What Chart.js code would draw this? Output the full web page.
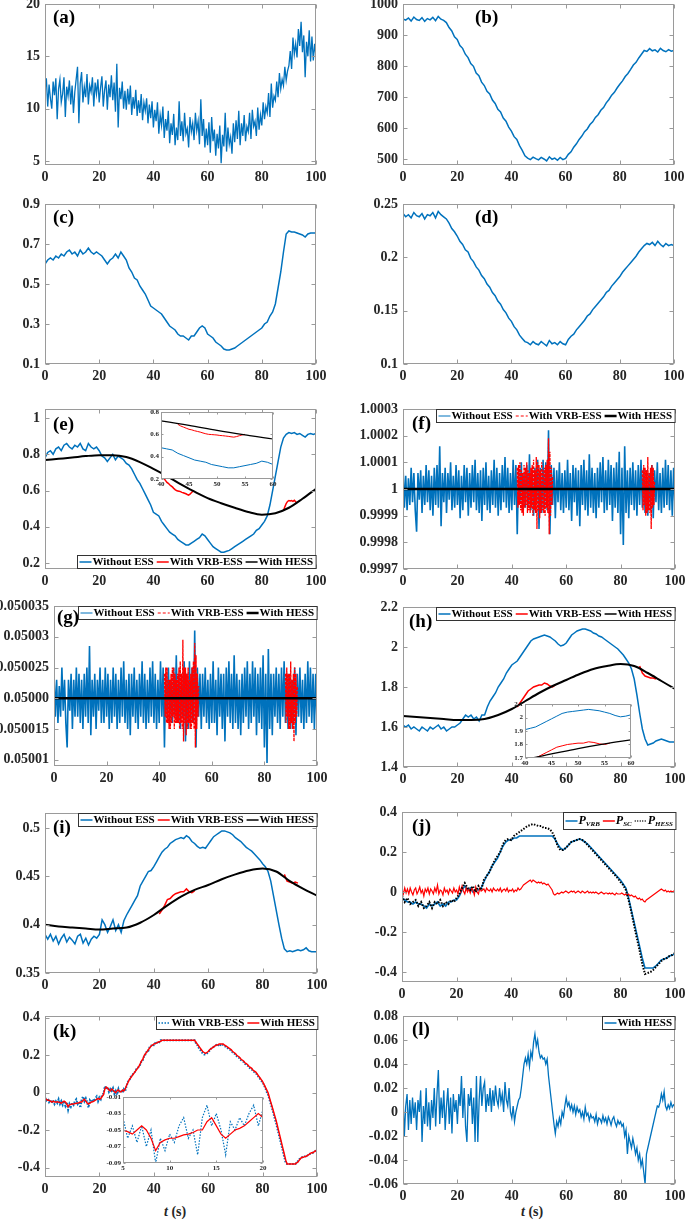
<!DOCTYPE html>
<html>
<head>
<meta charset="utf-8">
<script src="https://cdn.jsdelivr.net/npm/chart.js@4.4.1/dist/chart.umd.min.js"></script>
<style>
body{margin:0;background:#fff;}
#fig{position:relative;width:685px;height:1221px;overflow:hidden;background:#fff;}
#fig canvas{position:absolute;}
.tlab{position:absolute;font:bold 14px "Liberation Serif",serif;line-height:16px;color:#262626;white-space:nowrap;}
</style>
</head>
<body>
<div id="fig">
  <div class="tlab" style="left:164px;top:1204px"><i>t</i> (s)</div>
  <div class="tlab" style="left:521px;top:1204px"><i>t</i> (s)</div>
</div>
<script>
// ---------------- DATA ----------------
const xTicks = [0, 20, 40, 60, 80, 100];

// (a) step 0.5 s
const aTicks = [5, 10, 15, 20];
const aVals = [
  11.8,12.9,10.2,12.3,11.0,10.0,12.6,11.3,12.9,9.0,
  11.9,12.8,10.6,11.4,13.0,9.2,12.1,11.2,12.7,10.4,
  12.2,9.6,11.6,12.8,14.0,8.6,12.4,13.5,10.6,12.1,
  11.1,13.3,10.4,12.2,11.6,13.0,10.2,12.5,11.4,12.8,
  10.6,12.0,13.1,10.2,11.8,12.7,9.9,12.3,11.1,13.2,
  10.8,12.5,9.7,14.3,8.2,12.0,10.9,12.6,10.0,11.7,
  9.9,11.9,10.4,12.2,9.4,11.1,10.0,11.8,9.3,10.8,
  9.6,11.4,8.9,10.6,9.8,11.0,8.6,10.4,9.1,10.7,
  8.2,9.9,8.8,10.6,7.6,9.4,8.4,10.2,7.2,9.0,
  7.9,9.8,6.7,8.6,7.5,9.5,6.5,8.2,7.0,10.7,
  7.4,8.8,6.9,9.6,7.6,8.1,6.3,9.2,7.8,8.6,
  7.0,9.6,7.9,8.8,6.6,10.9,7.4,9.0,6.3,8.1,
  6.5,8.7,5.8,9.2,6.9,8.0,5.5,7.6,6.2,8.4,
  4.8,7.5,6.4,9.6,5.9,8.2,6.6,7.3,5.7,8.6,
  6.8,8.9,7.1,9.8,6.5,8.6,7.4,9.4,6.9,8.3,
  7.8,9.6,7.1,9.9,8.3,8.8,7.4,10.1,8.0,9.4,
  8.4,10.6,9.0,10.2,9.6,11.5,9.2,12.4,10.1,11.2,
  10.8,12.6,11.1,13.4,11.9,12.8,12.2,14.0,12.7,13.6,
  14.1,15.5,13.8,16.8,15.2,16.2,14.9,17.6,16.0,18.3,
  15.4,17.0,13.0,16.4,15.0,17.5,14.5,16.9,14.6,16.2,
  15.0];

// (b) step 1 s
const bTicks = [500, 600, 700, 800, 900, 1000];
const bVals = [
  952,948,955,945,958,950,947,956,944,953,
  949,957,946,960,951,947,940,924,913,894,
  886,866,857,838,827,808,799,777,769,748,
  737,718,710,690,679,660,652,632,622,603,
  590,572,563,543,528,510,503,498,506,501,
  497,505,500,494,507,499,503,496,505,498,
  502,515,523,538,549,563,574,588,597,611,
  620,634,643,657,666,681,692,706,715,729,
  741,752,766,776,789,803,812,826,838,850,
  847,856,849,852,845,857,850,846,853,848,
  850];

// (c) step 1 s
const cTicks = [0.1, 0.3, 0.5, 0.7, 0.9];
const cVals = [
  0.60,0.62,0.63,0.62,0.64,0.63,0.65,0.64,0.66,0.67,
  0.65,0.66,0.64,0.67,0.65,0.66,0.68,0.66,0.65,0.66,
  0.65,0.64,0.62,0.60,0.62,0.63,0.65,0.63,0.66,0.64,
  0.62,0.58,0.56,0.53,0.52,0.49,0.47,0.45,0.42,0.39,
  0.38,0.37,0.36,0.35,0.33,0.31,0.29,0.28,0.27,0.25,
  0.24,0.24,0.23,0.22,0.24,0.24,0.26,0.28,0.29,0.28,
  0.25,0.24,0.23,0.21,0.20,0.19,0.175,0.17,0.17,0.175,
  0.18,0.19,0.20,0.21,0.22,0.23,0.24,0.25,0.26,0.27,
  0.28,0.30,0.31,0.34,0.36,0.40,0.48,0.56,0.66,0.75,
  0.765,0.76,0.76,0.755,0.75,0.745,0.735,0.75,0.755,0.755,
  0.755];

// (d) step 1 s
const dTicks = [0.1, 0.15, 0.2, 0.25];
const dVals = [
  .241,.238,.240,.237,.242,.239,.238,.241,.236,.240,
  .239,.242,.237,.243,.240,.238,.236,.232,.227,.224,
  .220,.215,.212,.207,.205,.199,.196,.191,.188,.183,
  .180,.175,.172,.167,.164,.159,.156,.151,.148,.143,
  .140,.135,.132,.127,.124,.121,.120,.118,.121,.119,
  .118,.121,.119,.117,.122,.119,.120,.118,.121,.119,
  .118,.123,.126,.128,.132,.135,.138,.141,.145,.147,
  .151,.154,.157,.160,.163,.167,.169,.173,.176,.179,
  .182,.186,.189,.192,.195,.198,.201,.205,.208,.211,
  .213,.212,.214,.211,.215,.212,.210,.213,.211,.212,
  .211];

// (e) blue step 1 s, black step 5 s, red step 0.5 s
const eTicks = [0.2, 0.4, 0.6, 0.8, 1];
const eNoEss = [
  0.78,0.81,0.82,0.80,0.83,0.84,0.82,0.85,0.86,0.84,
  0.83,0.85,0.84,0.86,0.83,0.82,0.86,0.84,0.83,0.84,
  0.82,0.79,0.78,0.76,0.78,0.80,0.77,0.79,0.78,0.77,
  0.75,0.74,0.72,0.69,0.66,0.64,0.61,0.58,0.55,0.52,
  0.48,0.47,0.46,0.43,0.41,0.39,0.37,0.36,0.35,0.33,
  0.32,0.31,0.30,0.30,0.31,0.32,0.33,0.34,0.36,0.35,
  0.33,0.31,0.29,0.28,0.27,0.26,0.26,0.265,0.27,0.28,
  0.29,0.30,0.31,0.32,0.33,0.34,0.35,0.36,0.38,0.39,
  0.41,0.43,0.46,0.52,0.60,0.68,0.76,0.84,0.89,0.91,
  0.92,0.915,0.92,0.91,0.915,0.905,0.895,0.91,0.915,0.91,
  0.915];
const eHess = [0.768,0.775,0.782,0.79,0.795,0.795,0.785,0.757,0.72,0.68,0.635,
  0.595,0.558,0.53,0.505,0.482,0.467,0.475,0.505,0.555,0.61];
const eVrbA = [0.69,0.675,0.665,0.655,0.645,0.64,0.632,0.626,0.62,0.612,0.605,0.60,0.598,
  0.596,0.594,0.59,0.588,0.585,0.582,0.578,0.575,0.58,0.588,0.595,0.60];
const eVrbB = [0.49,0.51,0.528,0.54,0.545,0.542,0.545,0.54,0.546,0.538,0.53];

// (f) deviations from 1 in units of 1e-5; blue step 0.5 s, red step 0.25 s
const fTicks = [0.9997, 0.9998, 0.9999, 1, 1.0001, 1.0002, 1.0003];
const fNoEssDev = [
  9,-7,5,-8,4,-6,8,-5,6,-8,
  -16,6,-4,7,-9,5,-6,9,-5,7,
  -8,5,-10,8,-6,9,-7,16,-14,6,
  -5,8,-9,6,-4,10,-8,5,-7,9,
  -6,7,-11,5,-8,9,-5,8,-10,6,
  -7,9,-5,11,-8,6,-9,7,-12,8,
  -6,10,-8,5,-9,7,-6,11,-7,8,
  -10,6,-8,9,-5,12,-7,8,-9,6,
  -8,11,-6,9,-17,7,-5,10,-8,6,
  -7,9,-6,13,-8,7,-10,8,-5,11,
  -15,8,-9,11,-7,10,-8,22,-17,9,
  -6,8,-11,7,-5,10,-8,6,-9,7,
  -7,11,-8,6,-12,9,-5,8,-10,7,
  -14,9,-6,11,-8,7,-10,13,-7,8,
  -9,6,-11,8,-7,10,-5,12,-9,7,
  -8,11,-6,9,-12,8,-7,10,-9,14,
  -17,8,-21,16,-9,7,-11,8,-6,10,
  -8,7,-10,9,-6,11,-7,8,-9,7,
  -10,6,-8,9,-11,7,-5,10,-8,6,
  -9,8,-7,11,-6,9,-8,7,-10,8,
  -7];
const fVrbDevA = [
  8,-7,9,-6,10,-8,7,-9,6,-10,9,-7,8,-6,10,-9,7,-8,6,-9,
  8,-7,9,-10,11,-8,7,-9,12,-15,10,-8,9,-11,7,-9,
  10,-8,7,-9,8,-10,9,-7,11,-9,19,-17,14,-10,8,-6,5];
const fVrbDevB = [7,-8,9,-6,8,-10,7,-9,12,-8,6,-9,8,-15,9,-7,8,-6,3];
const fHess = [1,1,1,1,1,1,1,1,1,1,1];

// (g) deviations from 0.05002 in units of 1e-6
const gTicks = [0.05001, 0.050015, 0.05002, 0.050025, 0.05003, 0.050035];
const gTickLabels = ['0.05001', '0.050015', '0.05000', '0.050025', '0.05003', '0.050035'];
const gNoEssDev = [
  4,-3,3,-4,2,-3,5,-2,3,-4,
  -8,3,-2,4,-5,3,-3,5,-3,4,
  -4,3,-5,4,-3,5,-4,8.5,-6,3,
  -3,4,-5,3,-2,5,-4,3,-4,5,
  -3,4,-5,3,-4,5,-3,4,-5,3,
  -4,5,-3,6,-4,3,-5,4,-6,4,
  -3,5,-4,3,-5,4,-3,6,-4,4,
  -5,3,-4,5,-3,6,-4,4,-5,3,
  -4,6,-3,5,-8,4,-3,5,-4,3,
  -4,5,-3,7,-4,4,-5,4,-3,6,
  -7,4,-5,6,-4,5,-4,11,-8,5,
  -3,4,-5,4,-3,5,-4,3,-5,4,
  -4,6,-4,3,-6,5,-3,4,-5,4,
  -7,5,-3,6,-4,4,-5,7,-4,4,
  -5,3,-6,4,-4,5,-3,6,-5,4,
  -4,6,-3,5,-6,4,-4,5,-5,7,
  -8,4,-10.5,8,-5,4,-6,4,-3,5,
  -4,4,-5,5,-3,6,-4,4,-5,4,
  -5,3,-4,5,-6,4,-3,5,-4,3,
  -5,4,-4,6,-3,5,-4,4,-5,4,
  -4];
const gVrbDevA = [
  4,-3,5,-4,5,-4,3,-5,3,-5,4,-4,5,-3,5,-5,4,-4,3,-4,
  4,-4,5,-5,6,-4,4,-5,9.5,-7,5,-4,5,-6,4,-5,
  5,-4,3,-5,4,-5,5,-4,6,-5,9,-8,7,-5,4,-3,2];
const gVrbDevB = [4,-4,5,-3,4,-5,4,-5,6,-4,3,-5,4,-7,5,-4,4,-3,2];
const gHess = [0.05002,0.05002,0.05002,0.05002,0.05002,0.05002,0.05002,0.05002,0.05002,0.05002,0.05002];

// (h) blue step 1 s, black step 5 s, red step 1 s
const hTicks = [1.4, 1.6, 1.8, 2, 2.2];
const hNoEss = [
  1.61,1.60,1.61,1.59,1.60,1.59,1.58,1.60,1.59,1.58,
  1.60,1.59,1.60,1.61,1.59,1.60,1.58,1.59,1.60,1.60,
  1.61,1.62,1.64,1.66,1.65,1.66,1.64,1.65,1.63,1.66,
  1.66,1.70,1.73,1.75,1.77,1.80,1.82,1.84,1.87,1.89,
  1.91,1.92,1.93,1.95,1.97,1.99,2.01,2.03,2.04,2.045,
  2.05,2.055,2.06,2.055,2.05,2.04,2.03,2.015,2.005,2.01,
  2.02,2.04,2.06,2.07,2.08,2.085,2.09,2.09,2.085,2.08,
  2.07,2.065,2.055,2.05,2.04,2.03,2.02,2.01,2.0,1.99,
  1.975,1.96,1.94,1.92,1.89,1.84,1.76,1.67,1.59,1.54,
  1.51,1.515,1.52,1.53,1.535,1.54,1.535,1.53,1.525,1.525,
  1.525];
const hHess = [1.655,1.65,1.645,1.64,1.635,1.635,1.64,1.66,1.69,1.73,1.77,
  1.805,1.835,1.865,1.89,1.905,1.915,1.905,1.87,1.83,1.79];
const hVrbA = [1.70,1.72,1.74,1.76,1.78,1.79,1.80,1.805,1.81,1.81,1.82,1.815,1.805,1.80,1.81];
const hVrbB = [1.905,1.87,1.855,1.85,1.845,1.845,1.84];

// (i)
const iTicks = [0.35, 0.4, 0.45, 0.5];
const iNoEss = [
  0.39,0.385,0.39,0.383,0.388,0.38,0.386,0.39,0.382,0.387,
  0.384,0.38,0.388,0.39,0.381,0.386,0.379,0.385,0.388,0.386,
  0.39,0.405,0.40,0.392,0.398,0.405,0.394,0.40,0.392,0.404,
  0.41,0.415,0.42,0.425,0.43,0.44,0.445,0.45,0.455,0.456,
  0.46,0.465,0.47,0.475,0.478,0.48,0.484,0.486,0.488,0.489,
  0.49,0.489,0.492,0.49,0.486,0.484,0.481,0.479,0.48,0.479,
  0.483,0.487,0.491,0.493,0.495,0.497,0.497,0.496,0.495,0.493,
  0.49,0.488,0.486,0.483,0.48,0.478,0.476,0.473,0.47,0.467,
  0.463,0.46,0.455,0.445,0.43,0.415,0.40,0.386,0.375,0.372,
  0.373,0.372,0.373,0.374,0.373,0.374,0.376,0.373,0.372,0.372,
  0.372];
const iHess = [0.40,0.398,0.397,0.396,0.395,0.396,0.397,0.402,0.41,0.42,0.429,
  0.436,0.441,0.447,0.452,0.456,0.458,0.455,0.445,0.437,0.43];
const iVrbA = [0.411,0.415,0.42,0.426,0.427,0.43,0.432,0.433,0.434,0.434,0.437,0.434,0.433,0.435];
const iVrbB = [0.452,0.445,0.444,0.443,0.444,0.443];

// (j) P_VRB and P_HESS step 1 s, P_SC step 0.5 s
const jTicks = [-0.4, -0.2, 0, 0.2, 0.4];
const jVrb = [
  -0.03,-0.04,-0.05,-0.05,-0.06,-0.05,-0.06,-0.06,-0.07,-0.08,
  -0.06,-0.07,-0.06,-0.05,-0.07,-0.06,-0.07,-0.05,-0.05,-0.04,
  -0.04,-0.02,0.01,0.03,0.01,0.02,0.00,0.01,0.01,0.02,
  0.05,0.08,0.10,0.13,0.15,0.17,0.20,0.23,0.25,0.26,
  0.26,0.27,0.27,0.28,0.28,0.28,0.28,0.28,0.28,0.28,
  0.28,0.28,0.28,0.28,0.28,0.28,0.265,0.24,0.22,0.21,
  0.22,0.235,0.25,0.255,0.26,0.265,0.26,0.25,0.24,0.225,
  0.21,0.195,0.18,0.165,0.15,0.135,0.12,0.105,0.09,0.075,
  0.06,0.04,0.02,-0.03,-0.09,-0.15,-0.21,-0.27,-0.33,-0.38,
  -0.38,-0.38,-0.38,-0.37,-0.355,-0.34,-0.335,-0.33,-0.32,-0.315,
  -0.31];
const jSc = [
  0.01,-0.01,0.02,-0.005,0.015,-0.01,0.02,0.0,-0.015,0.01,
  0.02,-0.01,0.005,0.025,-0.005,0.01,-0.02,0.015,0.0,0.02,
  -0.01,0.015,0.005,-0.01,0.02,0.0,0.035,-0.01,0.01,0.005,
  -0.015,0.02,0.0,0.01,-0.01,0.015,0.005,-0.005,0.02,0.0,
  0.01,-0.01,0.025,0.0,0.03,0.005,-0.01,0.02,0.0,0.015,
  -0.005,0.02,0.01,-0.015,0.025,0.0,-0.01,0.02,0.005,0.01,
  0.015,0.0,0.02,0.01,0.005,0.015,0.0,0.02,0.01,0.005,
  0.015,0.005,0.02,0.0,0.01,0.015,0.005,0.02,0.0,0.01,
  0.005,0.015,0.0,0.01,0.005,0.02,0.01,0.015,0.025,0.035,
  0.04,0.045,0.05,0.055,0.06,0.05,0.06,0.055,0.05,0.045,
  0.05,0.045,0.05,0.04,0.045,0.04,0.035,0.04,0.03,0.02,
  0.01,-0.01,-0.015,-0.01,-0.005,-0.01,-0.005,0.0,-0.005,0.0,
  0.005,0.0,-0.005,0.0,0.005,0.0,0.005,-0.005,0.0,0.005,
  0.0,-0.005,0.005,0.0,-0.005,0.0,0.005,-0.005,0.0,-0.005,
  0.0,-0.005,0.0,-0.005,-0.01,-0.005,0.0,-0.005,-0.01,-0.005,
  -0.005,-0.01,-0.005,-0.01,-0.005,-0.01,-0.015,-0.005,-0.01,-0.01,
  -0.01,-0.005,-0.01,-0.015,-0.01,-0.015,-0.01,-0.02,-0.015,-0.02,
  -0.025,-0.02,-0.03,-0.035,-0.03,-0.04,-0.035,-0.045,-0.05,-0.04,
  -0.035,-0.03,-0.025,-0.02,-0.015,-0.01,-0.005,0.0,0.005,0.01,
  0.015,0.01,0.005,0.01,0.0,0.005,0.0,0.005,0.0,0.005,
  0.005];
const jHess = [
  -0.02,-0.05,-0.03,-0.06,-0.05,-0.04,-0.07,-0.05,-0.08,-0.07,
  -0.05,-0.08,-0.05,-0.06,-0.04,-0.07,-0.05,-0.06,-0.04,-0.05,
  -0.03,-0.01,0.02,0.045,0.02,0.01,0.03,0.00,0.03,0.01,
  0.06,0.08,0.10,0.13,0.16,0.18,0.20,0.24,0.26,0.265,
  0.26,0.28,0.29,0.30,0.31,0.32,0.33,0.335,0.34,0.335,
  0.33,0.33,0.32,0.32,0.315,0.30,0.27,0.23,0.21,0.21,
  0.22,0.235,0.25,0.255,0.26,0.265,0.26,0.25,0.235,0.22,
  0.205,0.19,0.175,0.16,0.145,0.13,0.115,0.10,0.085,0.07,
  0.05,0.035,0.01,-0.04,-0.10,-0.165,-0.23,-0.29,-0.36,-0.41,
  -0.405,-0.40,-0.39,-0.375,-0.36,-0.345,-0.335,-0.33,-0.32,-0.315,
  -0.305];

// (k) step 0.5 s
const kTicks = [-0.4, -0.2, 0, 0.2, 0.4];
const kVrbEss = [
  -0.025,-0.04,-0.03,-0.05,-0.04,-0.055,-0.04,-0.06,-0.045,-0.055,
  -0.035,-0.06,-0.045,-0.065,-0.045,-0.07,-0.05,-0.09,-0.06,-0.075,
  -0.055,-0.065,-0.045,-0.035,-0.06,-0.05,-0.08,-0.035,-0.02,-0.045,
  -0.03,-0.05,-0.08,-0.04,-0.05,-0.035,-0.045,-0.03,-0.02,-0.045,
  -0.025,-0.035,-0.01,-0.005,0.035,0.02,0.03,0.005,0.02,0.01,
  0.025,-0.005,0.01,-0.01,0.02,0.0,0.015,0.0,0.02,0.01,
  0.035,0.06,0.065,0.085,0.09,0.105,0.11,0.125,0.13,0.14,
  0.15,0.17,0.175,0.2,0.205,0.225,0.225,0.245,0.25,0.26,
  0.255,0.265,0.26,0.275,0.27,0.28,0.28,0.28,0.28,0.28,
  0.28,0.28,0.28,0.28,0.28,0.28,0.28,0.28,0.28,0.28,
  0.28,0.28,0.28,0.28,0.28,0.28,0.28,0.28,0.28,0.28,
  0.28,0.265,0.255,0.24,0.23,0.22,0.21,0.205,0.205,0.21,
  0.215,0.225,0.235,0.24,0.245,0.25,0.255,0.25,0.26,0.255,
  0.26,0.255,0.25,0.245,0.24,0.235,0.23,0.225,0.215,0.21,
  0.205,0.195,0.19,0.185,0.175,0.17,0.165,0.155,0.15,0.145,
  0.135,0.13,0.125,0.115,0.11,0.105,0.095,0.085,0.075,0.065,
  0.055,0.04,0.025,0.005,-0.01,-0.035,-0.06,-0.085,-0.11,-0.14,
  -0.165,-0.195,-0.225,-0.255,-0.285,-0.315,-0.345,-0.375,-0.38,-0.38,
  -0.38,-0.38,-0.38,-0.38,-0.38,-0.375,-0.365,-0.355,-0.35,-0.345,
  -0.345,-0.34,-0.34,-0.335,-0.33,-0.325,-0.32,-0.32,-0.315,-0.31,
  -0.305];
const kHess = [
  -0.03,-0.035,-0.04,-0.04,-0.045,-0.05,-0.045,-0.05,-0.05,-0.048,
  -0.05,-0.052,-0.055,-0.05,-0.045,-0.05,-0.06,-0.075,-0.065,-0.062,
  -0.06,-0.06,-0.058,-0.056,-0.055,-0.053,-0.05,-0.05,-0.04,-0.035,
  -0.045,-0.055,-0.06,-0.055,-0.05,-0.048,-0.045,-0.04,-0.035,-0.03,
  -0.035,-0.03,-0.02,-0.01,0.02,0.03,0.025,0.015,0.01,0.02,
  0.015,0.005,0.0,0.01,0.015,0.005,0.005,0.015,0.01,0.02,
  0.04,0.055,0.07,0.08,0.09,0.1,0.11,0.12,0.13,0.14,
  0.155,0.17,0.18,0.2,0.21,0.22,0.23,0.24,0.25,0.255,
  0.26,0.263,0.265,0.27,0.272,0.275,0.28,0.28,0.28,0.28,
  0.28,0.28,0.28,0.28,0.28,0.28,0.28,0.28,0.28,0.28,
  0.28,0.28,0.28,0.28,0.28,0.28,0.28,0.28,0.28,0.28,
  0.28,0.27,0.26,0.25,0.24,0.23,0.22,0.215,0.21,0.215,
  0.22,0.23,0.235,0.24,0.245,0.25,0.255,0.255,0.26,0.26,
  0.26,0.26,0.255,0.25,0.245,0.24,0.235,0.23,0.22,0.215,
  0.21,0.2,0.195,0.19,0.18,0.175,0.17,0.16,0.155,0.15,
  0.14,0.135,0.13,0.12,0.115,0.11,0.1,0.09,0.08,0.07,
  0.06,0.045,0.03,0.015,0.0,-0.025,-0.05,-0.075,-0.1,-0.125,
  -0.15,-0.18,-0.21,-0.24,-0.27,-0.3,-0.33,-0.36,-0.38,-0.38,
  -0.38,-0.38,-0.38,-0.38,-0.38,-0.375,-0.37,-0.36,-0.35,-0.345,
  -0.345,-0.34,-0.34,-0.335,-0.33,-0.325,-0.32,-0.32,-0.315,-0.31,
  -0.305];

// (l) step 0.5 s
const lTicks = [-0.06, -0.04, -0.02, 0, 0.02, 0.04, 0.06, 0.08];
const lHess = [
  0.015,-0.02,0.005,0.015,-0.015,0.01,-0.01,0.012,-0.005,0.008,
  -0.015,0.01,0.0,0.018,-0.025,0.005,-0.01,0.02,-0.012,0.008,
  -0.015,0.01,-0.005,0.02,-0.012,0.015,0.035,-0.01,0.012,-0.005,
  0.018,-0.015,0.005,0.02,-0.01,0.012,-0.018,0.015,0.0,0.01,
  -0.01,0.015,0.005,0.03,-0.005,0.02,-0.012,-0.025,0.015,0.005,
  0.02,-0.01,0.012,-0.025,0.03,-0.025,0.01,0.03,0.005,0.02,
  0.025,0.0,0.015,0.005,0.02,0.0,0.018,0.005,0.022,0.01,
  0.005,0.02,0.008,0.015,0.0,0.025,0.01,0.005,0.02,0.0,
  -0.005,0.005,-0.008,0.0,0.005,0.01,0.012,0.02,0.03,0.04,
  0.045,0.04,0.048,0.038,0.05,0.045,0.058,0.065,0.055,0.06,
  0.05,0.045,0.047,0.044,0.045,0.04,0.044,0.03,0.02,0.01,
  0.0,-0.01,-0.018,-0.008,-0.012,-0.005,-0.01,0.0,-0.004,0.005,
  0.012,0.005,0.008,0.002,0.006,0.0,0.005,-0.002,0.004,0.0,
  0.002,-0.004,0.0,-0.006,0.004,-0.003,-0.001,-0.007,-0.002,-0.005,
  -0.004,-0.008,-0.002,-0.01,-0.005,-0.006,-0.009,-0.003,-0.008,-0.005,
  -0.01,-0.004,-0.007,-0.011,-0.006,-0.004,-0.009,-0.012,-0.007,-0.01,
  -0.008,-0.012,-0.01,-0.02,-0.015,-0.035,-0.02,-0.025,-0.03,-0.022,
  -0.028,-0.035,-0.03,-0.04,-0.035,-0.045,-0.04,-0.05,-0.06,-0.035,
  -0.03,-0.025,-0.02,-0.015,-0.01,-0.005,0.0,0.005,0.004,0.008,
  0.015,0.01,0.017,0.005,0.002,0.006,0.003,0.008,0.004,0.006,
  0.005];

// insets
const eInX = [40, 45, 50, 55, 60], eInY = [0.2, 0.4, 0.6, 0.8];
const hInX = [40, 45, 50, 55, 60], hInY = [1.7, 1.8, 1.9, 2, 2.1];
const kInX = [5, 10, 15, 20], kInY = [-0.09, -0.07, -0.05, -0.03, -0.01];

// ---------------- HELPERS ----------------
const BLUE = '#0072BD', RED = '#FF0000', BLACK = '#000000';
const FAM = '"Liberation Serif", "Times New Roman", serif';
Chart.defaults.font.family = 'Liberation Serif';
const fig = document.getElementById('fig');

function pts(vals, t0, dt, k, off) {
  k = k || 1; off = off || 0;
  return vals.map((v, i) => ({x: t0 + i * dt, y: off + v * k}));
}
function segs(list, k, off) {
  let out = [];
  list.forEach((s, n) => {
    if (n > 0) out.push({x: s[0] - s[1] / 2, y: null});
    out = out.concat(pts(s[2], s[0], s[1], k, off));
  });
  return out;
}
function line(data, color, width, extra) {
  return Object.assign({data: data, borderColor: color, borderWidth: width, pointRadius: 0,
    fill: false, spanGaps: false, tension: 0}, extra || {});
}
const smooth = {cubicInterpolationMode: 'monotone'};
const LF = 'bold 11px ' + FAM;
function txt(s) { return [[s, LF, 0]]; }
function sub(a, b) { return [[a, 'italic bold 12px ' + FAM, 0], [b, 'italic bold 7px ' + FAM, 3]]; }

const frame = {
  id: 'frame',
  beforeDatasetsDraw(chart, args, o) {
    const {ctx, chartArea: a} = chart;
    if (o.fill) { ctx.save(); ctx.fillStyle = '#fff'; ctx.fillRect(a.left, a.top, a.right - a.left, a.bottom - a.top); ctx.restore(); }
  },
  afterDraw(chart, args, o) {
    const {ctx, chartArea: a, scales} = chart;
    const L = Math.round(a.left) + 0.5, R = Math.round(a.right) - 0.5;
    const T = Math.round(a.top) + 0.5, B = Math.round(a.bottom) - 0.5;
    const len = o.tick || 4;
    ctx.save();
    ctx.strokeStyle = '#9a9a9a'; ctx.lineWidth = 1; ctx.setLineDash([]);
    ctx.strokeRect(L, T, R - L, B - T);
    ctx.beginPath();
    scales.x.ticks.forEach(t => {
      const p = Math.round(scales.x.getPixelForValue(t.value)) + 0.5;
      ctx.moveTo(p, B); ctx.lineTo(p, B - len); ctx.moveTo(p, T); ctx.lineTo(p, T + len);
    });
    scales.y.ticks.forEach(t => {
      const p = Math.round(scales.y.getPixelForValue(t.value)) + 0.5;
      ctx.moveTo(L, p); ctx.lineTo(L + len, p); ctx.moveTo(R, p); ctx.lineTo(R - len, p);
    });
    ctx.stroke();
    if (o.tag) {
      ctx.fillStyle = '#000'; ctx.font = 'bold 19px ' + FAM; ctx.textBaseline = 'alphabetic';
      ctx.fillText(o.tag, a.left + o.tagAt[0], a.top + o.tagAt[1]);
    }
    if (o.legend) drawLegend(ctx, a, o.legend);
    ctx.restore();
  }
};

function drawLegend(ctx, a, lg) {
  const h = lg.h || 13, ll = 12;
  const widths = lg.items.map(it => it.parts.reduce((s, p) => { ctx.font = p[1]; return s + ctx.measureText(p[0]).width; }, 0));
  const total = 2 + widths.reduce((s, w) => s + ll + 1 + w + 3, 0);
  const x0 = Math.round(a.right - total) + 0.5;
  const y0 = lg.pos === 'br' ? Math.round(a.bottom - h) - 0.5 : Math.round(a.top) + 0.5;
  ctx.fillStyle = '#fff'; ctx.fillRect(x0, y0, total, h);
  ctx.strokeStyle = '#333'; ctx.lineWidth = 1; ctx.setLineDash([]);
  ctx.strokeRect(x0, y0, total, h);
  let x = x0 + 2;
  const yc = y0 + h / 2;
  lg.items.forEach((it, i) => {
    ctx.strokeStyle = it.c; ctx.lineWidth = it.w; ctx.setLineDash(it.d || []);
    ctx.beginPath(); ctx.moveTo(x, yc); ctx.lineTo(x + ll, yc); ctx.stroke();
    x += ll + 1;
    ctx.fillStyle = '#000'; ctx.textBaseline = 'middle';
    it.parts.forEach(p => { ctx.font = p[1]; ctx.fillText(p[0], x, yc + p[2]); x += ctx.measureText(p[0]).width; });
    x += 3;
  });
  ctx.setLineDash([]);
}

function makeChart(o) {
  const inset = !!o.inset;
  const fs = inset ? 7 : 14;
  const padL = o.padL || (inset ? 20 : 60), padT = inset ? 5 : 8, padR = inset ? 8 : 14, padB = inset ? 11 : 26;
  const [l, t, r, b] = o.box;
  const w = r - l + padL + padR, h = b - t + padT + padB;
  const cv = document.createElement('canvas');
  cv.width = w; cv.height = h;
  cv.style.left = (l - padL) + 'px'; cv.style.top = (t - padT) + 'px';
  cv.style.width = w + 'px'; cv.style.height = h + 'px';
  fig.appendChild(cv);
  const xr = o.x || [0, 100, xTicks];
  const n = o.ds.length;
  o.ds.forEach((d, i) => { d.order = n - i; });
  const font = {family: 'Liberation Serif', size: fs, weight: 'bold'};
  new Chart(cv, {
    type: 'line',
    data: {datasets: o.ds},
    options: {
      responsive: false, animation: false, devicePixelRatio: 1, events: [],
      layout: {padding: {left: 0, top: padT, right: padR, bottom: 0}},
      plugins: {
        legend: {display: false}, tooltip: {enabled: false},
        frame: {tag: o.tag, tagAt: o.tagAt, legend: o.legend, fill: inset, tick: inset ? 2 : 4}
      },
      scales: {
        x: {
          type: 'linear', min: xr[0], max: xr[1],
          grid: {display: false, drawTicks: false}, border: {display: false},
          ticks: {autoSkip: false, maxRotation: 0, padding: inset ? 1 : 4, color: '#262626', font: font},
          afterBuildTicks: s => { s.ticks = xr[2].map(v => ({value: v})); },
          afterFit: s => { s.height = padB; s.paddingLeft = 0; s.paddingRight = 0; }
        },
        y: {
          type: 'linear', min: o.y[0], max: o.y[1],
          grid: {display: false, drawTicks: false}, border: {display: false},
          ticks: {autoSkip: false, padding: inset ? 2 : 5, color: '#262626', font: font,
            callback: (v, i) => o.y[3] ? o.y[3][i] : String(v)},
          afterBuildTicks: s => { s.ticks = o.y[2].map(v => ({value: v})); },
          afterFit: s => { s.width = padL; s.paddingTop = 0; s.paddingBottom = 0; }
        }
      }
    },
    plugins: [frame]
  });
}

const LEG3 = [
  {c: BLUE, w: 1.5, parts: txt('Without ESS')},
  {c: RED, w: 1.5, parts: txt('With VRB-ESS')},
  {c: BLACK, w: 1.5, parts: txt('With HESS')}
];
const LEG3d = [
  {c: BLUE, w: 1, parts: txt('Without ESS')},
  {c: RED, w: 1, d: [3, 2], parts: txt('With VRB-ESS')},
  {c: BLACK, w: 2.5, parts: txt('With HESS')}
];

// ---------------- PANELS ----------------
makeChart({box: [45, 4, 316, 165], y: [4.62, 20, aTicks], tag: '(a)', tagAt: [8, 19],
  ds: [line(pts(aVals, 0, 0.5), BLUE, 1.3)]});

makeChart({box: [403, 4, 674, 165], y: [480.6, 1000, bTicks], tag: '(b)', tagAt: [72, 19],
  ds: [line(pts(bVals, 0, 1), BLUE, 1.5)]});

makeChart({box: [45, 204, 316, 364], y: [0.1, 0.9, cTicks], tag: '(c)', tagAt: [8, 19],
  ds: [line(pts(cVals, 0, 1), BLUE, 1.5)]});

makeChart({box: [403, 204, 674, 364], y: [0.1, 0.25, dTicks], tag: '(d)', tagAt: [72, 19],
  ds: [line(pts(dVals, 0, 1), BLUE, 1.5)]});

function eSets(wb, wk) {
  return [
    line(pts(eNoEss, 0, 1), BLUE, wb),
    line(segs([[43, 0.5, eVrbA], [88, 0.5, eVrbB]]), RED, wb),
    line(pts(eHess, 0, 5), BLACK, wk, smooth)
  ];
}
makeChart({box: [45, 409, 316, 569], y: [0.167, 1.05, eTicks], tag: '(e)', tagAt: [8, 21],
  legend: {pos: 'br', items: LEG3}, ds: eSets(1.5, 2)});
makeChart({inset: true, box: [161, 412, 273, 479], x: [40, 60, eInX], y: [0.2, 0.8, eInY], ds: eSets(1, 1.2)});

makeChart({box: [403, 409, 675, 569], y: [0.9997, 1.0003, fTicks], tag: '(f)', tagAt: [9, 20],
  legend: {pos: 'tr', items: LEG3d},
  ds: [
    line(pts(fNoEssDev, 0, 0.5, 1e-5, 1), BLUE, 1.6),
    line(segs([[42, 0.25, fVrbDevA], [88, 0.25, fVrbDevB]], 1e-5, 1), RED, 1.3, {borderDash: [3, 1]}),
    line(pts(fHess, 0, 10), BLACK, 2.5)
  ]});

makeChart({box: [54, 606, 317, 766], padL: 60, y: [0.050009, 0.050035, gTicks, gTickLabels], tag: '(g)', tagAt: [3, 17],
  legend: {pos: 'tr', items: LEG3d},
  ds: [
    line(pts(gNoEssDev, 0, 0.5, 1e-6, 0.05002), BLUE, 1.6),
    line(segs([[42, 0.25, gVrbDevA], [88, 0.25, gVrbDevB]], 1e-6, 0.05002), RED, 1.3, {borderDash: [3, 1]}),
    line(pts(gHess, 0, 10), BLACK, 2.5)
  ]});

function hSets(wb, wk) {
  return [
    line(pts(hNoEss, 0, 1), BLUE, wb),
    line(segs([[42, 1, hVrbA], [87, 1, hVrbB]]), RED, wb),
    line(pts(hHess, 0, 5), BLACK, wk, smooth)
  ];
}
makeChart({box: [403, 607, 675, 767], y: [1.4, 2.2, hTicks], tag: '(h)', tagAt: [6, 20],
  legend: {pos: 'tr', items: LEG3}, ds: hSets(1.5, 2)});
makeChart({inset: true, box: [525, 704, 631, 758], x: [40, 60, hInX], y: [1.7, 2.1, hInY], ds: hSets(1, 1.2)});

makeChart({box: [45, 813, 317, 973], y: [0.35, 0.5155, iTicks], tag: '(i)', tagAt: [8, 20],
  legend: {pos: 'tr', items: LEG3},
  ds: [
    line(pts(iNoEss, 0, 1), BLUE, 1.5),
    line(segs([[42, 1, iVrbA], [88, 1, iVrbB]]), RED, 1.5),
    line(pts(iHess, 0, 5), BLACK, 2, smooth)
  ]});

makeChart({box: [402, 812, 675, 982], y: [-0.45, 0.4, jTicks], tag: '(j)', tagAt: [10, 20],
  legend: {pos: 'tr', h: 17, items: [
    {c: BLUE, w: 1.5, parts: sub('P', 'VRB')},
    {c: RED, w: 1.5, parts: sub('P', 'SC')},
    {c: BLACK, w: 1.5, d: [1, 1.5], parts: sub('P', 'HESS')}
  ]},
  ds: [
    line(pts(jVrb, 0, 1), BLUE, 1.6),
    line(pts(jSc, 0, 0.5), RED, 1.2),
    line(pts(jHess, 0, 1), BLACK, 2, {borderDash: [1.5, 1.5]})
  ]});

function kSets(wb, wr) {
  return [
    line(pts(kVrbEss, 0, 0.5), BLUE, wb, {borderDash: [1.5, 1.5]}),
    line(pts(kHess, 0, 0.5), RED, wr)
  ];
}
makeChart({box: [45, 1016, 317, 1177], y: [-0.45, 0.41, kTicks], tag: '(k)', tagAt: [8, 21],
  legend: {pos: 'tr', items: [
    {c: BLUE, w: 1.5, d: [1.5, 1.5], parts: txt('With VRB-ESS')},
    {c: RED, w: 1.5, parts: txt('With HESS')}
  ]}, ds: kSets(2, 1.5)});
makeChart({inset: true, box: [123, 1097, 263, 1163], x: [5, 20, kInX], y: [-0.09, -0.01, kInY], ds: kSets(1.2, 1.2)});

makeChart({box: [403, 1016, 675, 1184], y: [-0.06, 0.08, lTicks], tag: '(l)', tagAt: [9, 19],
  legend: {pos: 'tr', items: [{c: BLUE, w: 1.5, parts: txt('With HESS')}]},
  ds: [line(pts(lHess, 0, 0.5), BLUE, 1.3)]});
</script>
</body>
</html>
